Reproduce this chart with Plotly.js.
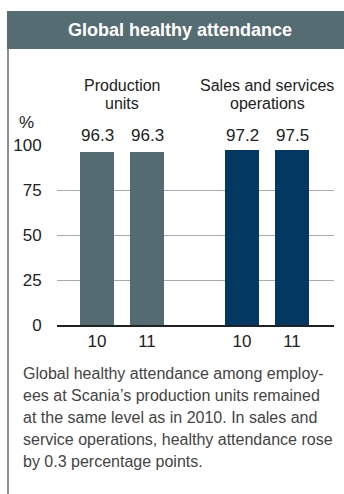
<!DOCTYPE html>
<html><head><meta charset="utf-8">
<script src="https://cdn.plot.ly/plotly-3.0.1.min.js"></script>
<style>html,body{margin:0;padding:0;background:#fff;}#chart{width:344px;height:494px;}</style>
</head><body><div id="chart"></div>
<script>
// Data
const groups = ["Production<br>units", "Sales and services<br>operations"];
const years = ["10", "11"];
const productionValues = [96.3, 96.3];
const salesValues = [97.2, 97.5];
const yTicks = [0, 25, 50, 75, 100];
const titleText = "Global healthy attendance";
const captionLines = [
  "Global healthy attendance among employ-",
  "ees at Scania’s production units remained",
  "at the same level as in 2010. In sales and",
  "service operations, healthy attendance rose",
  "by 0.3 percentage points."
];

const seriesValues = [productionValues, salesValues];
const colors = ["#546b72", "#033862"];
const groupStep = 2.9;
const BASE = "Liberation Sans, Arial, sans-serif";

// pixel -> paper helpers (plot area x 57..334, y 145..325)
const L = 57, R = 334, T = 145, B = 325;
const px = x => (x - L) / (R - L);
const py = y => (B - y) / (B - T);

const traces = [];
const annotations = [];
const tickvals = [], ticktext = [];
seriesValues.forEach((vals, g) => {
  const xs = years.map((_, i) => g * groupStep + i);
  traces.push({
    type: "bar", x: xs, y: vals, width: 0.68,
    marker: {color: colors[g], line: {width: 0}},
    hoverinfo: "skip", showlegend: false
  });
  xs.forEach((x, i) => {
    tickvals.push(x); ticktext.push(years[i]);
    annotations.push({x: x, y: 100, xref: "x", yref: "y", text: vals[i].toFixed(1),
      showarrow: false, yanchor: "bottom", yshift: -2,
      font: {family: BASE, size: 17, color: "#222"}});
  });
  const center = g * groupStep + 0.5;
  groups[g].split("<br>").forEach((line, li) => {
    annotations.push({x: center, xref: "x", y: py(85 + li * 19), yref: "paper", text: line,
      showarrow: false, yanchor: "middle",
      font: {family: BASE, size: 16, color: "#222"}});
  });
});

annotations.push({x: px(26), y: py(122), xref: "paper", yref: "paper", text: "%", showarrow: false,
  xanchor: "center", yanchor: "middle", font: {family: BASE, size: 17, color: "#222"}});
annotations.push({x: px(180), y: py(30), xref: "paper", yref: "paper", text: "<b>" + titleText + "</b>",
  showarrow: false, xanchor: "center", yanchor: "middle",
  font: {family: BASE, size: 18, color: "#fff"}});
captionLines.forEach((line, i) => {
  annotations.push({x: px(21), y: py(373 + i * 22), xref: "paper", yref: "paper", text: line,
    showarrow: false, xanchor: "left", yanchor: "middle", align: "left",
    font: {family: BASE, size: 16, color: "#444"}});
});

const layout = {
  width: 344, height: 494,
  margin: {l: L, r: 344 - R, t: T, b: 494 - B, pad: 0},
  paper_bgcolor: "#fff", plot_bgcolor: "#fff",
  xaxis: {range: [-0.8, 4.74], tickvals: tickvals, ticktext: ticktext, showgrid: false,
    zeroline: false, showline: true, linecolor: "#222", linewidth: 2, ticks: "",
    tickfont: {family: BASE, size: 17, color: "#222"}, fixedrange: true},
  yaxis: {range: [0, 100], tickvals: yTicks, showgrid: true, gridcolor: "#aaaaaa", gridwidth: 1,
    zeroline: false, showline: false, ticks: "outside", ticklen: 11, tickcolor: "rgba(0,0,0,0)",
    tickfont: {family: BASE, size: 17, color: "#222"}, fixedrange: true},
  shapes: [
    {type: "rect", xref: "paper", yref: "paper", x0: px(7), x1: px(346), y0: py(49), y1: py(11),
      fillcolor: "#566c73", line: {width: 0}, layer: "below"},
    {type: "line", xref: "paper", yref: "paper", x0: px(8), x1: px(8), y0: py(49), y1: py(496),
      line: {color: "#6a6a6a", width: 1.5}}
  ],
  annotations: annotations,
  bargap: 0
};
Plotly.newPlot("chart", traces, layout, {staticPlot: true, displayModeBar: false});
</script></body></html>
